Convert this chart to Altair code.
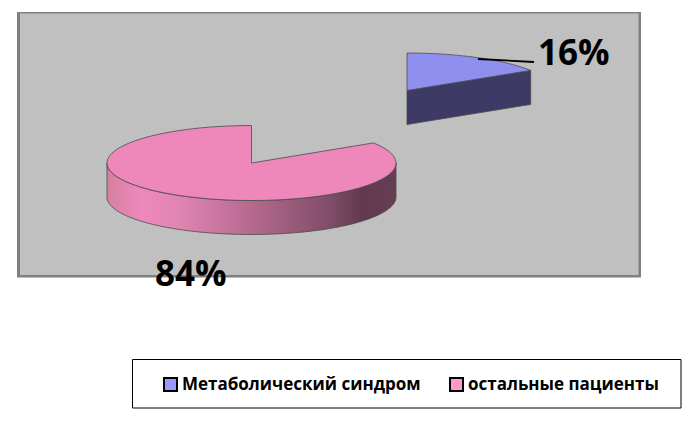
import numpy as np
import pandas as pd
import altair as alt

categories = ["Метаболический синдром", "остальные пациенты"]
shares = [16, 84]
share_labels = ["16%", "84%"]
legend_colors = ["#9999FF", "#FF99CC"]
top_colors = ["#8F8FEE", "#EE88BB"]
side_dark = "#3D3A66"
edge = "#4A4A4A"
FONT = "Open Sans"

# pie geometry in image pixels
blue_c = (407.0, 90.5)
pink_c = (251.5, 163.0)
RX_BLUE, RX_PINK, RY, DEPTH = 146.5, 144.5, 37.5, 34.0
boundary = shares[0] / sum(shares) * 2 * np.pi

xs = alt.Scale(domain=[8, 685], range=[0, 677], nice=False, zero=False)
ys = alt.Scale(domain=[8, 417], range=[0, 409], nice=False, zero=False)
X = lambda f="x": alt.X(f"{f}:Q", scale=xs, axis=None)
Y = lambda f="y": alt.Y(f"{f}:Q", scale=ys, axis=None)


def sector(center, rx, a0, a1, n=90):
    a = np.linspace(a0, a1, n)
    px = center[0] + rx * np.sin(a)
    py = center[1] - RY * np.cos(a)
    return pd.DataFrame({
        "x": np.r_[center[0], px, center[0]],
        "y": np.r_[center[1], py, center[1]],
    }).assign(i=lambda d: range(len(d)))


def box(x, x2, y, y2, color, **kw):
    d = pd.DataFrame({"x": [x], "x2": [x2], "y": [y], "y2": [y2]})
    return alt.Chart(d).mark_rect(color=color, **kw).encode(
        x=X(), x2="x2:Q", y=Y(), y2="y2:Q")


def face(df, color):
    return alt.Chart(df).mark_line(fill=color, stroke=edge, strokeWidth=0.8, interpolate="linear").encode(
        x=X(), y=Y(), order="i:Q")


panel_outer = box(17, 641, 12, 277.5, "#808080")
panel_inner = box(20, 638.5, 13.5, 275, "#C0C0C0")
legend_frame = box(132.5, 681, 359.5, 408, "#FFFFFF", stroke="#000000", strokeWidth=1)

# pink side wall
a = np.linspace(np.pi / 2, 3 * np.pi / 2, 120)
wall = pd.DataFrame({
    "x": pink_c[0] + RX_PINK * np.sin(a),
    "y": pink_c[1] - RY * np.cos(a),
})
wall["y2"] = wall["y"] + DEPTH
wall_grad = alt.Gradient(
    gradient="linear", x1=0, x2=1, y1=0, y2=0,
    stops=[
        alt.GradientStop(offset=0.0, color="#D5809F"),
        alt.GradientStop(offset=0.12, color="#EE88BB"),
        alt.GradientStop(offset=0.25, color="#E085B2"),
        alt.GradientStop(offset=0.55, color="#AC6488"),
        alt.GradientStop(offset=0.78, color="#7E4C66"),
        alt.GradientStop(offset=0.88, color="#623A50"),
        alt.GradientStop(offset=1.0, color="#663E54"),
    ],
)
pink_wall = alt.Chart(wall).mark_area(color=wall_grad, stroke=edge, strokeWidth=0.8).encode(
    x=X(), y=Y(), y2="y2:Q")

pink_top = face(sector(pink_c, RX_PINK, boundary, 2 * np.pi), top_colors[1])

# blue wedge cut face
cx, cy = blue_c
corner = (cx + RX_BLUE * np.sin(boundary), cy - RY * np.cos(boundary))
blue_side_df = pd.DataFrame({
    "x": [cx, corner[0], corner[0], cx, cx],
    "y": [cy, corner[1], corner[1] + DEPTH, cy + DEPTH, cy],
    "i": range(5),
})
blue_side = face(blue_side_df, side_dark)
blue_top = face(sector(blue_c, RX_BLUE, 0, boundary), top_colors[0])

leader = alt.Chart(pd.DataFrame({"x": [478, 534], "y": [59, 62], "i": [0, 1]})).mark_line(
    color="#000000", strokeWidth=1.8).encode(x=X(), y=Y(), order="i:Q")

labels = alt.Chart(pd.DataFrame({
    "x": [538, 155], "y": [65, 286], "t": share_labels,
})).mark_text(font=FONT, fontWeight="bold", fontSize=35, align="left", baseline="alphabetic",
              color="#000000").encode(x=X(), y=Y(), text="t:N")

legend_src = alt.Chart(pd.DataFrame({"cat": categories, "x": [300, 300], "y": [380, 380]})).mark_square(
    size=0).encode(
    x=X(), y=Y(),
    color=alt.Color("cat:N", scale=alt.Scale(domain=categories, range=legend_colors),
                    legend=alt.Legend(
                        title=None, orient="none", legendX=154, legendY=368,
                        direction="horizontal", columns=2, columnPadding=25,
                        symbolType="square", symbolSize=169, symbolStrokeColor="#000000",
                        symbolStrokeWidth=2, symbolOpacity=1,
                        labelFont=FONT, labelFontWeight="bold", labelFontSize=17,
                        labelColor="#000000", labelOffset=3, labelLimit=400, padding=0,
                    )))

chart = alt.layer(
    panel_outer, panel_inner, legend_frame, pink_wall, pink_top, blue_side, blue_top,
    leader, labels, legend_src,
).properties(width=677, height=409, padding=0, autosize=alt.AutoSizeParams(type="none")).configure_view(stroke=None)

chart.save("out.html", embed_options={"renderer": "svg", "actions": False})
